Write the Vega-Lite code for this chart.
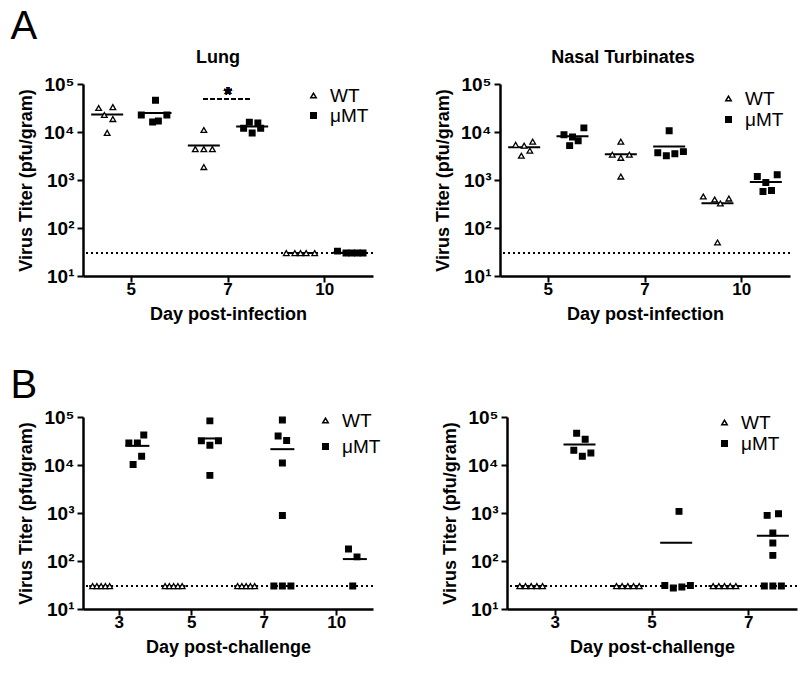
{
  "$schema": "https://vega.github.io/schema/vega-lite/v6.json",
  "padding": {"left": 10, "top": 7, "right": 5, "bottom": 5},
  "background": "white",
  "config": {
    "font": "Liberation Sans",
    "view": {"stroke": null},
    "axis": {"grid": false, "domainColor": "#000", "domainWidth": 2.5, "tickColor": "#000", "tickWidth": 2, "tickSize": 6, "labelFontSize": 17, "labelFontWeight": "bold", "labelColor": "#000", "titleFontSize": 18, "titleFontWeight": "bold", "titleColor": "#000", "labelPadding": 3},
    "axisX": {"labelAngle": 0, "titlePadding": 8, "labelFontSize": 17, "labelPadding": -1},
    "axisY": {"titlePadding": 8, "labelFontSize": 19},
    "legend": {"labelFontSize": 19, "labelColor": "#000", "labelFontWeight": "normal", "symbolSize": 30, "padding": 0, "labelOffset": 7},
    "title": {"color": "#000"}
  },
  "spacing": 43,
  "resolve": {"scale": {"x": "independent", "y": "independent", "xOffset": "independent", "shape": "independent", "fill": "independent"}},
  "vconcat": [
    {
      "title": {"text": "A", "fontSize": 40, "fontWeight": "normal", "anchor": "start", "offset": 2, "dx": -7},
      "spacing": 60,
      "resolve": {"scale": {"x": "independent", "y": "independent", "xOffset": "independent", "shape": "independent", "fill": "independent"}},
      "hconcat": [
        {
          "width": 290, "height": 192,
          "title": {"text": "Lung", "fontSize": 18, "fontWeight": "bold", "offset": 8, "dx": -10},
          "data": {"values": [
            {"day": 5, "group": "WT", "slot": "W-3", "titer": 31600},
            {"day": 5, "group": "WT", "slot": "W2", "titer": 33000},
            {"day": 5, "group": "WT", "slot": "W-1", "titer": 22600},
            {"day": 5, "group": "WT", "slot": "W2", "titer": 18600},
            {"day": 5, "group": "WT", "slot": "W0", "titer": 9600},
            {"day": 5, "group": "μMT", "slot": "M0", "titer": 46000},
            {"day": 5, "group": "μMT", "slot": "M-5", "titer": 22600},
            {"day": 5, "group": "μMT", "slot": "M-1", "titer": 16200},
            {"day": 5, "group": "μMT", "slot": "M1", "titer": 17000},
            {"day": 5, "group": "μMT", "slot": "M4", "titer": 22600},
            {"day": 7, "group": "WT", "slot": "W0", "titer": 11000},
            {"day": 7, "group": "WT", "slot": "W-3", "titer": 4400},
            {"day": 7, "group": "WT", "slot": "W0", "titer": 4400},
            {"day": 7, "group": "WT", "slot": "W3", "titer": 4400},
            {"day": 7, "group": "WT", "slot": "W0", "titer": 1860},
            {"day": 7, "group": "μMT", "slot": "M-1", "titer": 16000},
            {"day": 7, "group": "μMT", "slot": "M2", "titer": 15500},
            {"day": 7, "group": "μMT", "slot": "M-3", "titer": 12000},
            {"day": 7, "group": "μMT", "slot": "M3", "titer": 12000},
            {"day": 7, "group": "μMT", "slot": "M0", "titer": 9500},
            {"day": 10, "group": "WT", "slot": "W-5", "titer": 30},
            {"day": 10, "group": "WT", "slot": "W-2", "titer": 30},
            {"day": 10, "group": "WT", "slot": "W0", "titer": 30},
            {"day": 10, "group": "WT", "slot": "W2", "titer": 30},
            {"day": 10, "group": "WT", "slot": "W5", "titer": 30},
            {"day": 10, "group": "μMT", "slot": "M-4", "titer": 33},
            {"day": 10, "group": "μMT", "slot": "M-1", "titer": 30},
            {"day": 10, "group": "μMT", "slot": "M1", "titer": 30},
            {"day": 10, "group": "μMT", "slot": "M3", "titer": 30},
            {"day": 10, "group": "μMT", "slot": "M5", "titer": 30}
          ]},
          "layer": [
            {"mark": {"type": "rule", "strokeDash": [2, 3], "strokeWidth": 2, "color": "#000"}, "encoding": {"y": {"datum": 30}}},
            {"transform": [{"filter": "datum.group === 'WT'"}], "mark": {"type": "tick", "color": "#000", "thickness": 2, "size": 32, "opacity": 1}, "encoding": {"x": {"field": "day", "type": "ordinal"}, "xOffset": {"datum": "W0"}, "y": {"aggregate": "mean", "field": "titer", "type": "quantitative"}}},
            {"transform": [{"filter": "datum.group !== 'WT'"}], "mark": {"type": "tick", "color": "#000", "thickness": 2, "size": 32, "opacity": 1}, "encoding": {"x": {"field": "day", "type": "ordinal"}, "xOffset": {"datum": "M0"}, "y": {"aggregate": "mean", "field": "titer", "type": "quantitative"}}},
            {"mark": {"type": "rule", "strokeDash": [4, 3], "strokeWidth": 1.5, "color": "#000"}, "encoding": {"x": {"datum": 7, "type": "ordinal", "bandPosition": 0.25}, "x2": {"datum": 7, "bandPosition": 0.75}, "y": {"datum": 48000}}},
            {"mark": {"type": "text", "text": "*", "fontSize": 20, "fontWeight": "bold", "fill": "#000", "baseline": "middle"}, "encoding": {"x": {"datum": 7, "type": "ordinal"}, "y": {"datum": 58000}}},
            {"mark": {"type": "point", "filled": true, "stroke": "#000", "strokeWidth": 1.3, "size": 32, "opacity": 1},
             "encoding": {
               "x": {"field": "day", "type": "ordinal", "scale": {"domain": [5, 7, 10], "paddingInner": 0, "paddingOuter": 0}, "axis": {"title": "Day post-infection"}},
               "xOffset": {"field": "slot", "type": "nominal", "scale": {"domain": ["W-8","W-7","W-6","W-5","W-4","W-3","W-2","W-1","W0","W1","W2","W3","W4","W5","W6","W7","W8","M-8","M-7","M-6","M-5","M-4","M-3","M-2","M-1","M0","M1","M2","M3","M4","M5","M6","M7","M8"], "paddingInner": 0, "paddingOuter": 0}},
               "y": {"field": "titer", "type": "quantitative", "scale": {"type": "log", "domain": [10, 100000]}, "axis": {"values": [10, 100, 1000, 10000, 100000], "labelExpr": "datum.value >= 99999 ? '10⁵' : datum.value >= 9999 ? '10⁴' : datum.value >= 999 ? '10³' : datum.value >= 99 ? '10²' : '10¹'", "title": "Virus Titer (pfu/gram)"}},
               "shape": {"field": "group", "type": "nominal", "scale": {"domain": ["WT", "μMT"], "range": ["triangle-up", "square"]}, "legend": {"title": null, "orient": "none", "legendX": 221, "legendY": 2, "rowPadding": 0, "encode": {"symbols": {"update": {"fill": {"signal": "datum.value === 'WT' ? '#ffffff' : '#000000'"}, "stroke": {"value": "#000000"}, "strokeWidth": {"value": 1.3}, "opacity": {"value": 1}}}}}},
               "fill": {"field": "group", "type": "nominal", "scale": {"domain": ["WT", "μMT"], "range": ["#ffffff", "#000000"]}, "legend": null}
             }}
          ]
        },
        {
          "width": 290, "height": 192,
          "title": {"text": "Nasal Turbinates", "fontSize": 18, "fontWeight": "bold", "offset": 8, "dx": -22},
          "data": {"values": [
            {"day": 5, "group": "WT", "slot": "W-3", "titer": 5400},
            {"day": 5, "group": "WT", "slot": "W0", "titer": 5200},
            {"day": 5, "group": "WT", "slot": "W3", "titer": 6300},
            {"day": 5, "group": "WT", "slot": "W2", "titer": 4070},
            {"day": 5, "group": "WT", "slot": "W-1", "titer": 3200},
            {"day": 5, "group": "μMT", "slot": "M-3", "titer": 8750},
            {"day": 5, "group": "μMT", "slot": "M0", "titer": 7900},
            {"day": 5, "group": "μMT", "slot": "M4", "titer": 12200},
            {"day": 5, "group": "μMT", "slot": "M2", "titer": 6560},
            {"day": 5, "group": "μMT", "slot": "M-1", "titer": 5200},
            {"day": 7, "group": "WT", "slot": "W0", "titer": 6300},
            {"day": 7, "group": "WT", "slot": "W-3", "titer": 3370},
            {"day": 7, "group": "WT", "slot": "W0", "titer": 2900},
            {"day": 7, "group": "WT", "slot": "W3", "titer": 3370},
            {"day": 7, "group": "WT", "slot": "W0", "titer": 1180},
            {"day": 7, "group": "μMT", "slot": "M0", "titer": 10600},
            {"day": 7, "group": "μMT", "slot": "M-4", "titer": 3700},
            {"day": 7, "group": "μMT", "slot": "M-1", "titer": 3200},
            {"day": 7, "group": "μMT", "slot": "M2", "titer": 3530},
            {"day": 7, "group": "μMT", "slot": "M5", "titer": 3900},
            {"day": 10, "group": "WT", "slot": "W-5", "titer": 453},
            {"day": 10, "group": "WT", "slot": "W-1", "titer": 392},
            {"day": 10, "group": "WT", "slot": "W1", "titer": 324},
            {"day": 10, "group": "WT", "slot": "W4", "titer": 411},
            {"day": 10, "group": "WT", "slot": "W0", "titer": 50},
            {"day": 10, "group": "μMT", "slot": "M-3", "titer": 1180},
            {"day": 10, "group": "μMT", "slot": "M4", "titer": 1290},
            {"day": 10, "group": "μMT", "slot": "M0", "titer": 884},
            {"day": 10, "group": "μMT", "slot": "M-1", "titer": 575},
            {"day": 10, "group": "μMT", "slot": "M2", "titer": 602}
          ]},
          "layer": [
            {"mark": {"type": "rule", "strokeDash": [2, 3], "strokeWidth": 2, "color": "#000"}, "encoding": {"y": {"datum": 30}}},
            {"transform": [{"filter": "datum.group === 'WT'"}], "mark": {"type": "tick", "color": "#000", "thickness": 2, "size": 32, "opacity": 1}, "encoding": {"x": {"field": "day", "type": "ordinal"}, "xOffset": {"datum": "W0"}, "y": {"aggregate": "mean", "field": "titer", "type": "quantitative"}}},
            {"transform": [{"filter": "datum.group !== 'WT'"}], "mark": {"type": "tick", "color": "#000", "thickness": 2, "size": 32, "opacity": 1}, "encoding": {"x": {"field": "day", "type": "ordinal"}, "xOffset": {"datum": "M0"}, "y": {"aggregate": "mean", "field": "titer", "type": "quantitative"}}},
            {"mark": {"type": "point", "filled": true, "stroke": "#000", "strokeWidth": 1.3, "size": 32, "opacity": 1},
             "encoding": {
               "x": {"field": "day", "type": "ordinal", "scale": {"domain": [5, 7, 10], "paddingInner": 0, "paddingOuter": 0}, "axis": {"title": "Day post-infection"}},
               "xOffset": {"field": "slot", "type": "nominal", "scale": {"domain": ["W-8","W-7","W-6","W-5","W-4","W-3","W-2","W-1","W0","W1","W2","W3","W4","W5","W6","W7","W8","M-8","M-7","M-6","M-5","M-4","M-3","M-2","M-1","M0","M1","M2","M3","M4","M5","M6","M7","M8"], "paddingInner": 0, "paddingOuter": 0}},
               "y": {"field": "titer", "type": "quantitative", "scale": {"type": "log", "domain": [10, 100000]}, "axis": {"values": [10, 100, 1000, 10000, 100000], "labelExpr": "datum.value >= 99999 ? '10⁵' : datum.value >= 9999 ? '10⁴' : datum.value >= 999 ? '10³' : datum.value >= 99 ? '10²' : '10¹'", "title": "Virus Titer (pfu/gram)"}},
               "shape": {"field": "group", "type": "nominal", "scale": {"domain": ["WT", "μMT"], "range": ["triangle-up", "square"]}, "legend": {"title": null, "orient": "none", "legendX": 219, "legendY": 5, "rowPadding": 1, "encode": {"symbols": {"update": {"fill": {"signal": "datum.value === 'WT' ? '#ffffff' : '#000000'"}, "stroke": {"value": "#000000"}, "strokeWidth": {"value": 1.3}, "opacity": {"value": 1}}}}}},
               "fill": {"field": "group", "type": "nominal", "scale": {"domain": ["WT", "μMT"], "range": ["#ffffff", "#000000"]}, "legend": null}
             }}
          ]
        }
      ]
    },
    {
      "title": {"text": "B", "fontSize": 40, "fontWeight": "normal", "anchor": "start", "offset": 2, "dx": -7},
      "spacing": 60,
      "resolve": {"scale": {"x": "independent", "y": "independent", "xOffset": "independent", "shape": "independent", "fill": "independent"}},
      "hconcat": [
        {
          "width": 290, "height": 192,
          "data": {"values": [
            {"day": 3, "group": "WT", "slot": "W-4", "titer": 30},
            {"day": 3, "group": "WT", "slot": "W-2", "titer": 30},
            {"day": 3, "group": "WT", "slot": "W0", "titer": 30},
            {"day": 3, "group": "WT", "slot": "W2", "titer": 30},
            {"day": 3, "group": "WT", "slot": "W4", "titer": 30},
            {"day": 3, "group": "μMT", "slot": "M-4", "titer": 28900},
            {"day": 3, "group": "μMT", "slot": "M0", "titer": 28900},
            {"day": 3, "group": "μMT", "slot": "M3", "titer": 42000},
            {"day": 3, "group": "μMT", "slot": "M2", "titer": 15200},
            {"day": 3, "group": "μMT", "slot": "M-2", "titer": 10200},
            {"day": 5, "group": "WT", "slot": "W-4", "titer": 30},
            {"day": 5, "group": "WT", "slot": "W-2", "titer": 30},
            {"day": 5, "group": "WT", "slot": "W0", "titer": 30},
            {"day": 5, "group": "WT", "slot": "W2", "titer": 30},
            {"day": 5, "group": "WT", "slot": "W4", "titer": 30},
            {"day": 5, "group": "μMT", "slot": "M0", "titer": 83000},
            {"day": 5, "group": "μMT", "slot": "M-4", "titer": 31800},
            {"day": 5, "group": "μMT", "slot": "M0", "titer": 25900},
            {"day": 5, "group": "μMT", "slot": "M4", "titer": 31800},
            {"day": 5, "group": "μMT", "slot": "M0", "titer": 6080},
            {"day": 7, "group": "WT", "slot": "W-4", "titer": 30},
            {"day": 7, "group": "WT", "slot": "W-2", "titer": 30},
            {"day": 7, "group": "WT", "slot": "W0", "titer": 30},
            {"day": 7, "group": "WT", "slot": "W2", "titer": 30},
            {"day": 7, "group": "WT", "slot": "W4", "titer": 30},
            {"day": 7, "group": "μMT", "slot": "M0", "titer": 86500},
            {"day": 7, "group": "μMT", "slot": "M-2", "titer": 40000},
            {"day": 7, "group": "μMT", "slot": "M2", "titer": 32500},
            {"day": 7, "group": "μMT", "slot": "M0", "titer": 11000},
            {"day": 7, "group": "μMT", "slot": "M0", "titer": 884},
            {"day": 7, "group": "μMT", "slot": "M-4", "titer": 30},
            {"day": 7, "group": "μMT", "slot": "M0", "titer": 30},
            {"day": 7, "group": "μMT", "slot": "M4", "titer": 30},
            {"day": 10, "group": "μMT", "slot": "M-3", "titer": 177},
            {"day": 10, "group": "μMT", "slot": "M1", "titer": 122},
            {"day": 10, "group": "μMT", "slot": "M-1", "titer": 30}
          ]},
          "layer": [
            {"mark": {"type": "rule", "strokeDash": [2, 3], "strokeWidth": 2, "color": "#000"}, "encoding": {"y": {"datum": 30}}},
            {"transform": [{"filter": "datum.group === 'WT'"}], "mark": {"type": "tick", "color": "#000", "thickness": 2, "size": 24, "opacity": 1}, "encoding": {"x": {"field": "day", "type": "ordinal"}, "xOffset": {"datum": "W0"}, "y": {"aggregate": "mean", "field": "titer", "type": "quantitative"}}},
            {"transform": [{"filter": "datum.group !== 'WT'"}], "mark": {"type": "tick", "color": "#000", "thickness": 2, "size": 24, "opacity": 1}, "encoding": {"x": {"field": "day", "type": "ordinal"}, "xOffset": {"datum": "M0"}, "y": {"aggregate": "mean", "field": "titer", "type": "quantitative"}}},
            {"mark": {"type": "point", "filled": true, "stroke": "#000", "strokeWidth": 1.3, "size": 32, "opacity": 1},
             "encoding": {
               "x": {"field": "day", "type": "ordinal", "scale": {"domain": [3, 5, 7, 10], "paddingInner": 0, "paddingOuter": 0}, "axis": {"title": "Day post-challenge"}},
               "xOffset": {"field": "slot", "type": "nominal", "scale": {"domain": ["W-8","W-7","W-6","W-5","W-4","W-3","W-2","W-1","W0","W1","W2","W3","W4","W5","W6","W7","W8","M-8","M-7","M-6","M-5","M-4","M-3","M-2","M-1","M0","M1","M2","M3","M4","M5","M6","M7","M8"], "paddingInner": 0, "paddingOuter": 0}},
               "y": {"field": "titer", "type": "quantitative", "scale": {"type": "log", "domain": [10, 100000]}, "axis": {"values": [10, 100, 1000, 10000, 100000], "labelExpr": "datum.value >= 99999 ? '10⁵' : datum.value >= 9999 ? '10⁴' : datum.value >= 999 ? '10³' : datum.value >= 99 ? '10²' : '10¹'", "title": "Virus Titer (pfu/gram)"}},
               "shape": {"field": "group", "type": "nominal", "scale": {"domain": ["WT", "μMT"], "range": ["triangle-up", "square"]}, "legend": {"title": null, "orient": "none", "legendX": 233, "legendY": -6, "rowPadding": 6, "encode": {"symbols": {"update": {"fill": {"signal": "datum.value === 'WT' ? '#ffffff' : '#000000'"}, "stroke": {"value": "#000000"}, "strokeWidth": {"value": 1.3}, "opacity": {"value": 1}}}}}},
               "fill": {"field": "group", "type": "nominal", "scale": {"domain": ["WT", "μMT"], "range": ["#ffffff", "#000000"]}, "legend": null}
             }}
          ]
        },
        {
          "width": 290, "height": 192,
          "data": {"values": [
            {"day": 3, "group": "WT", "slot": "W-4", "titer": 30},
            {"day": 3, "group": "WT", "slot": "W-2", "titer": 30},
            {"day": 3, "group": "WT", "slot": "W0", "titer": 30},
            {"day": 3, "group": "WT", "slot": "W2", "titer": 30},
            {"day": 3, "group": "WT", "slot": "W4", "titer": 30},
            {"day": 3, "group": "μMT", "slot": "M-1", "titer": 46000},
            {"day": 3, "group": "μMT", "slot": "M2", "titer": 34300},
            {"day": 3, "group": "μMT", "slot": "M-2", "titer": 20200},
            {"day": 3, "group": "μMT", "slot": "M1", "titer": 15200},
            {"day": 3, "group": "μMT", "slot": "M4", "titer": 17800},
            {"day": 5, "group": "WT", "slot": "W-4", "titer": 30},
            {"day": 5, "group": "WT", "slot": "W-2", "titer": 30},
            {"day": 5, "group": "WT", "slot": "W0", "titer": 30},
            {"day": 5, "group": "WT", "slot": "W2", "titer": 30},
            {"day": 5, "group": "WT", "slot": "W4", "titer": 30},
            {"day": 5, "group": "μMT", "slot": "M1", "titer": 1080},
            {"day": 5, "group": "μMT", "slot": "M-4", "titer": 31},
            {"day": 5, "group": "μMT", "slot": "M-1", "titer": 27.4},
            {"day": 5, "group": "μMT", "slot": "M2", "titer": 28.7},
            {"day": 5, "group": "μMT", "slot": "M5", "titer": 31},
            {"day": 7, "group": "WT", "slot": "W-4", "titer": 30},
            {"day": 7, "group": "WT", "slot": "W-2", "titer": 30},
            {"day": 7, "group": "WT", "slot": "W0", "titer": 30},
            {"day": 7, "group": "WT", "slot": "W2", "titer": 30},
            {"day": 7, "group": "WT", "slot": "W4", "titer": 30},
            {"day": 7, "group": "μMT", "slot": "M-2", "titer": 893},
            {"day": 7, "group": "μMT", "slot": "M2", "titer": 968},
            {"day": 7, "group": "μMT", "slot": "M0", "titer": 383},
            {"day": 7, "group": "μMT", "slot": "M0", "titer": 237},
            {"day": 7, "group": "μMT", "slot": "M0", "titer": 131},
            {"day": 7, "group": "μMT", "slot": "M-3", "titer": 30},
            {"day": 7, "group": "μMT", "slot": "M0", "titer": 30},
            {"day": 7, "group": "μMT", "slot": "M3", "titer": 30}
          ]},
          "layer": [
            {"mark": {"type": "rule", "strokeDash": [2, 3], "strokeWidth": 2, "color": "#000"}, "encoding": {"y": {"datum": 30}}},
            {"transform": [{"filter": "datum.group === 'WT'"}], "mark": {"type": "tick", "color": "#000", "thickness": 2, "size": 32, "opacity": 1}, "encoding": {"x": {"field": "day", "type": "ordinal"}, "xOffset": {"datum": "W0"}, "y": {"aggregate": "mean", "field": "titer", "type": "quantitative"}}},
            {"transform": [{"filter": "datum.group !== 'WT'"}], "mark": {"type": "tick", "color": "#000", "thickness": 2, "size": 32, "opacity": 1}, "encoding": {"x": {"field": "day", "type": "ordinal"}, "xOffset": {"datum": "M0"}, "y": {"aggregate": "mean", "field": "titer", "type": "quantitative"}}},
            {"mark": {"type": "point", "filled": true, "stroke": "#000", "strokeWidth": 1.3, "size": 32, "opacity": 1},
             "encoding": {
               "x": {"field": "day", "type": "ordinal", "scale": {"domain": [3, 5, 7], "paddingInner": 0, "paddingOuter": 0}, "axis": {"title": "Day post-challenge"}},
               "xOffset": {"field": "slot", "type": "nominal", "scale": {"domain": ["W-8","W-7","W-6","W-5","W-4","W-3","W-2","W-1","W0","W1","W2","W3","W4","W5","W6","W7","W8","M-8","M-7","M-6","M-5","M-4","M-3","M-2","M-1","M0","M1","M2","M3","M4","M5","M6","M7","M8"], "paddingInner": 0, "paddingOuter": 0}},
               "y": {"field": "titer", "type": "quantitative", "scale": {"type": "log", "domain": [10, 100000]}, "axis": {"values": [10, 100, 1000, 10000, 100000], "labelExpr": "datum.value >= 99999 ? '10⁵' : datum.value >= 9999 ? '10⁴' : datum.value >= 999 ? '10³' : datum.value >= 99 ? '10²' : '10¹'", "title": "Virus Titer (pfu/gram)"}},
               "shape": {"field": "group", "type": "nominal", "scale": {"domain": ["WT", "μMT"], "range": ["triangle-up", "square"]}, "legend": {"title": null, "orient": "none", "legendX": 208, "legendY": -4, "rowPadding": 1, "encode": {"symbols": {"update": {"fill": {"signal": "datum.value === 'WT' ? '#ffffff' : '#000000'"}, "stroke": {"value": "#000000"}, "strokeWidth": {"value": 1.3}, "opacity": {"value": 1}}}}}},
               "fill": {"field": "group", "type": "nominal", "scale": {"domain": ["WT", "μMT"], "range": ["#ffffff", "#000000"]}, "legend": null}
             }}
          ]
        }
      ]
    }
  ]
}
